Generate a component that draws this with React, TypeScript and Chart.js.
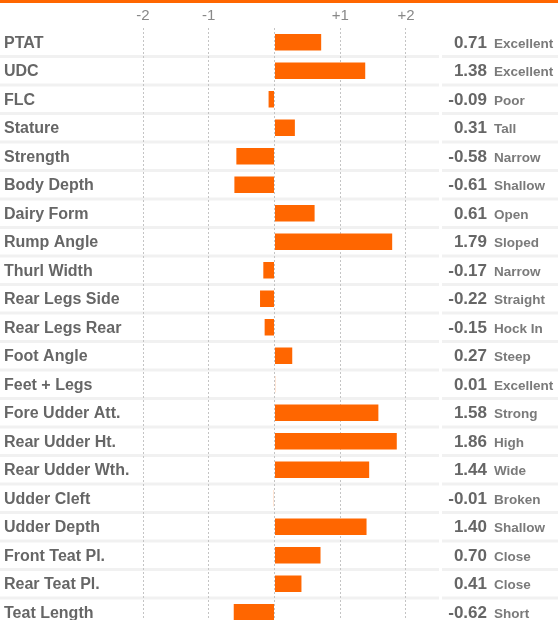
import React, { useEffect, useRef } from "react";
import { Chart, registerables } from "chart.js";

Chart.register(...registerables);

const traits = [
  "PTAT", "UDC", "FLC", "Stature", "Strength", "Body Depth", "Dairy Form",
  "Rump Angle", "Thurl Width", "Rear Legs Side", "Rear Legs Rear", "Foot Angle",
  "Feet + Legs", "Fore Udder Att.", "Rear Udder Ht.", "Rear Udder Wth.",
  "Udder Cleft", "Udder Depth", "Front Teat Pl.", "Rear Teat Pl.", "Teat Length",
];
const values = [
  0.71, 1.38, -0.09, 0.31, -0.58, -0.61, 0.61, 1.79, -0.17, -0.22, -0.15,
  0.27, 0.01, 1.58, 1.86, 1.44, -0.01, 1.40, 0.70, 0.41, -0.62,
];
const descriptors = [
  "Excellent", "Excellent", "Poor", "Tall", "Narrow", "Shallow", "Open",
  "Sloped", "Narrow", "Straight", "Hock In", "Steep", "Excellent", "Strong",
  "High", "Wide", "Broken", "Shallow", "Close", "Close", "Short",
];
const tickValues = [-2, -1, 0, 1, 2];

const FONT = "'Liberation Sans Narrow', 'Liberation Sans', Arial, sans-serif";
const ORANGE = "#ff6600";

const decorPlugin = {
  id: "decor",
  beforeDraw(chart: any) {
    const { ctx, width } = chart;
    const y = chart.scales.y;
    ctx.save();
    ctx.fillStyle = ORANGE;
    ctx.fillRect(0, 0, width, 3);
    ctx.fillStyle = "#f1f1f1";
    for (let i = 0; i < traits.length - 1; i++) {
      const b = (y.getPixelForValue(i) + y.getPixelForValue(i + 1)) / 2;
      ctx.fillRect(0, b - 1.5, 439, 3);
      ctx.fillRect(442, b - 1.5, width - 442, 3);
    }
    ctx.restore();
  },
  afterDraw(chart: any) {
    const { ctx } = chart;
    const y = chart.scales.y;
    ctx.save();
    ctx.textBaseline = "middle";
    traits.forEach((t, i) => {
      const py = y.getPixelForValue(i) + 1;
      ctx.fillStyle = "#666666";
      ctx.font = `bold 16px ${FONT}`;
      ctx.textAlign = "left";
      ctx.fillText(t, 4, py);
      ctx.fillStyle = "#666666";
      ctx.textAlign = "right";
      ctx.font = `bold 17px ${FONT}`;
      ctx.fillText(values[i].toFixed(2), 487, py);
      ctx.fillStyle = "#7a7a7a";
      ctx.textAlign = "left";
      ctx.font = `bold 13.5px ${FONT}`;
      ctx.fillText(descriptors[i], 494, py + 1);
    });
    ctx.restore();
  },
};

export default function App() {
  const ref = useRef<HTMLCanvasElement>(null);
  useEffect(() => {
    if (!ref.current) return;
    const chart = new Chart(ref.current, {
      type: "bar",
      data: {
        labels: traits,
        datasets: [
          {
            data: values,
            backgroundColor: ORANGE,
            borderWidth: 0,
            barPercentage: 0.58,
            categoryPercentage: 1,
          },
        ],
      },
      options: {
        indexAxis: "y",
        animation: false,
        responsive: false,
        maintainAspectRatio: false,
        layout: { padding: { left: 0, right: 0, top: 0, bottom: 13.5 } },
        plugins: {
          legend: { display: false },
          tooltip: { enabled: false },
        },
        scales: {
          x: {
            position: "top",
            min: -4.175,
            max: 4.312,
            afterBuildTicks: (axis: any) => {
              axis.ticks = tickValues.map((v) => ({ value: v }));
            },
            afterFit: (axis: any) => {
              axis.height = 28;
            },
            border: { display: false, dash: [2, 2] },
            grid: {
              color: "#c4c4c4",
              lineWidth: 1,
              drawTicks: false,
            },
            ticks: {
              padding: 3,
              autoSkip: false,
              maxRotation: 0,
              color: "#888888",
              font: { family: FONT, size: 15 },
              callback: (v: any) => {
                const n = Number(v);
                if (n === 0) return "";
                return n > 0 ? `+${n}` : `${n}`;
              },
            },
          },
          y: {
            display: false,
            offset: true,
            grid: { display: false },
          },
        },
      },
      plugins: [decorPlugin],
    });
    return () => chart.destroy();
  }, []);

  return (
    <div
      style={{
        position: "fixed",
        left: 0,
        top: 0,
        width: 558,
        height: 620,
        overflow: "hidden",
        background: "#fff",
      }}
    >
      <canvas ref={ref} width={558} height={640} style={{ width: 558, height: 640, display: "block" }} />
    </div>
  );
}
